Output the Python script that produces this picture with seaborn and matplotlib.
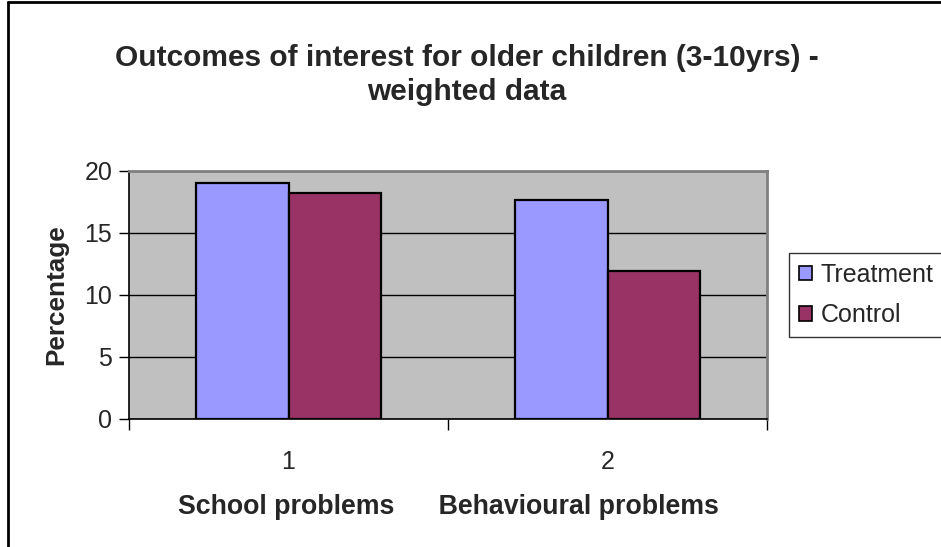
import matplotlib
matplotlib.use("Agg")
import matplotlib.pyplot as plt
from matplotlib.lines import Line2D
from matplotlib.patches import Patch
import seaborn as sns
import pandas as pd

# Data
categories = ["1", "2"]
series_names = ["Treatment", "Control"]
treatment = [19.0, 17.7]
control = [18.2, 11.9]
y_ticks = [0, 5, 10, 15, 20]
colors = {"Treatment": "#9999FF", "Control": "#993366"}

df = pd.DataFrame({
    "category": categories * 2,
    "group": ["Treatment"] * len(categories) + ["Control"] * len(categories),
    "value": treatment + control,
})

sns.set_style("white")
plt.rcParams["font.family"] = ["Liberation Sans", "DejaVu Sans"]

fig = plt.figure(figsize=(9.41, 5.47), dpi=100)
ax = fig.add_axes([129 / 941, 1 - 419 / 547, 638 / 941, 248 / 547])
ax.set_facecolor("#C0C0C0")

sns.barplot(data=df, x="category", y="value", hue="group",
            hue_order=series_names, order=categories, palette=colors,
            width=0.578, edgecolor="black", linewidth=1.6,
            saturation=1, ax=ax, legend=False, zorder=3)

ax.set_xlim(-0.5, 1.5)
ax.set_ylim(0, 20)
ax.set_yticks(y_ticks)
ax.yaxis.grid(True, color="black", linewidth=1.0, zorder=1)
ax.set_axisbelow(True)

# category labels centred, tick marks at category boundaries
ax.set_xticks([0, 1])
ax.set_xticklabels(categories)
ax.set_xticks([-0.5, 0.5, 1.5], minor=True)
ax.tick_params(axis="x", which="major", length=0, pad=22, labelsize=18)
ax.tick_params(axis="x", which="minor", length=8, width=1, color="black",
               direction="out", bottom=True)
ax.tick_params(axis="y", length=7, width=1, color="black", direction="out",
               left=True, labelsize=18, pad=5)

for side in ("left", "bottom"):
    ax.spines[side].set_color("black")
    ax.spines[side].set_linewidth(1.2)
for side in ("top", "right"):
    ax.spines[side].set_color("#808080")
    ax.spines[side].set_linewidth(2.0)

ax.set_ylabel("Percentage", fontsize=18.8, fontweight="bold", labelpad=12)
ax.set_xlabel("School problems      Behavioural problems", fontsize=19.3,
              fontweight="bold", labelpad=15)

fig.text(467 / 941, 1 - 75 / 547,
         "Outcomes of interest for older children (3-10yrs) -\nweighted data",
         ha="center", va="center", fontsize=21.5, fontweight="bold",
         linespacing=1.3)

handles = [Patch(facecolor=colors[n], edgecolor="black", linewidth=1.2, label=n)
           for n in series_names]
leg = fig.legend(handles=handles, loc="upper left",
                 bbox_to_anchor=(789 / 941, 1 - 253 / 547),
                 frameon=True, fancybox=False, fontsize=18,
                 handlelength=0.5, handleheight=0.5, handletextpad=0.35,
                 borderpad=0.4, labelspacing=0.65, borderaxespad=0)
leg.get_frame().set_edgecolor("black")
leg.get_frame().set_linewidth(1.0)

# outer chart frame (left and top edges)
fig.add_artist(Line2D([8 / 941, 8 / 941], [0, 1 - 2 / 547], color="black",
                      linewidth=2, transform=fig.transFigure))
fig.add_artist(Line2D([8 / 941, 1], [1 - 2 / 547, 1 - 2 / 547], color="black",
                      linewidth=2, transform=fig.transFigure))

fig.savefig("out.png", dpi=100, facecolor="white")
